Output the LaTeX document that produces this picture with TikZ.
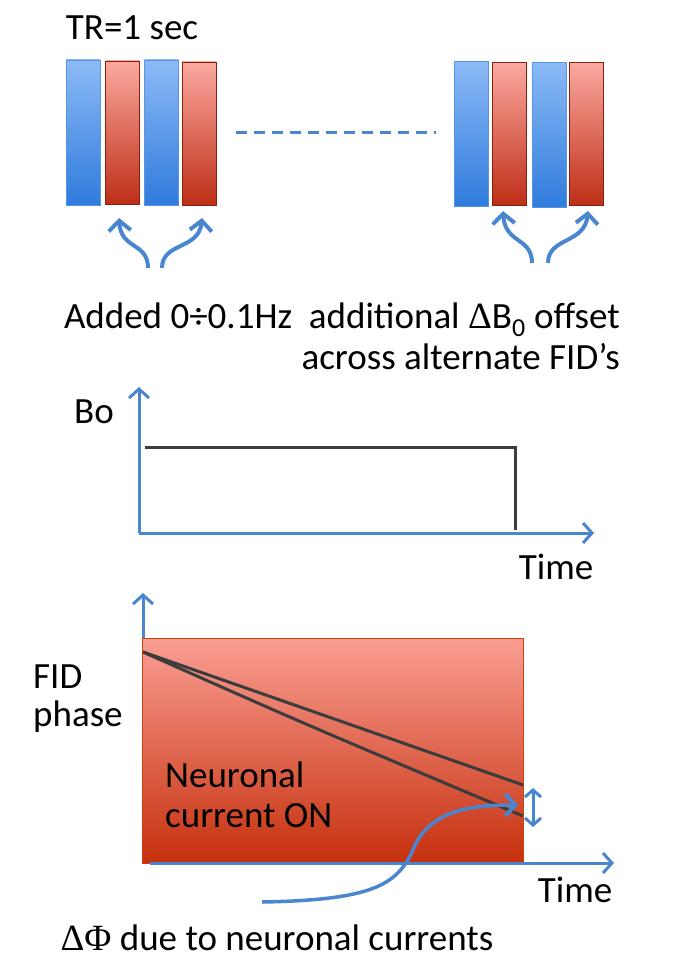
\documentclass[tikz,border=0pt]{standalone}
\usepackage{fontspec}
\setmainfont{Carlito}
\newfontfamily\symf{Liberation Serif}
\usetikzlibrary{arrows.meta}
\definecolor{axblue}{HTML}{4A86D0}
\definecolor{bartop}{HTML}{8CBAF6}
\definecolor{barbot}{HTML}{2F7BDC}
\definecolor{redtop}{HTML}{FBA9A0}
\definecolor{redbot}{HTML}{BE2E16}
\definecolor{boxtop}{HTML}{FA9E93}
\definecolor{boxbot}{HTML}{C5300D}
\definecolor{darkline}{HTML}{3C3C3C}
\tikzset{
  bluebar/.style={minimum width=34pt, minimum height=145pt, inner sep=0pt, top color=bartop, bottom color=barbot, draw=barbot!80!white, line width=0.8pt},
  redbar/.style={minimum width=34pt, minimum height=143pt, inner sep=0pt, top color=redtop, bottom color=redbot, draw=redbot!70!black, line width=0.8pt},
  tipV/.style={-{Straight Barb[length=9pt,width=20pt,line width=3pt]}},
  ax/.style={draw=axblue, line width=3pt, tipV},
  curv/.style={draw=axblue, line width=4pt, -{Straight Barb[length=10pt,width=22pt,line width=4pt]}},
  sig/.style={draw=darkline, line width=3pt},
  lbl/.style={font=\fontsize{37}{41}\selectfont, inner sep=0pt}
}
\begin{document}
\begin{tikzpicture}[x=1pt,y=-1pt]
\useasboundingbox (0,0) rectangle (680,974);
% title
\node[lbl] (tr) at (132,28) {TR=1 sec};
% left bars
\node[bluebar] (b1) at (83,132.5) {};
\node[redbar] (r1) at (122.5,132.5) {};
\node[bluebar] (b2) at (161.5,132.5) {};
\node[redbar] (r2) at (199,133.5) {};
% right bars
\node[bluebar] (b3) at (471,134) {};
\node[redbar] (r3) at (509.5,134) {};
\node[bluebar] (b4) at (549,135) {};
\node[redbar] (r4) at (586.5,134) {};
% dashed line
\coordinate (d1) at (236,132);
\coordinate (d2) at (436,132);
\draw[axblue, line width=3pt, dash pattern=on 11pt off 7pt] (d1) -- (d2);
% curved arrows
\coordinate (s1) at (148,268);
\coordinate (e1) at (119,218);
\coordinate (s2) at (162,268);
\coordinate (e2) at (202,218);
\draw[curv] (s1) .. controls (148,242) and (121,250) .. (e1);
\draw[curv] (s2) .. controls (162,242) and (199,250) .. (e2);
\coordinate (s3) at (532,263);
\coordinate (e3) at (503,211);
\coordinate (s4) at (548,263);
\coordinate (e4) at (588,211);
\draw[curv] (s3) .. controls (532,237) and (505,244) .. (e3);
\draw[curv] (s4) .. controls (548,237) and (585,244) .. (e4);
% caption
\node[lbl, anchor=east, align=right] (cap) at (620,336) {Added 0÷0.1Hz\ \ additional {\symf Δ}B\textsubscript{0} offset\\across alternate FID’s};
% Bo chart
\coordinate (o1) at (139,533);
\coordinate (yt1) at (139,387);
\coordinate (xt1) at (594,533);
\draw[ax] (o1) -- (yt1);
\draw[ax] (o1) -- (xt1);
\coordinate (p1) at (145,447);
\coordinate (p2) at (515,447);
\coordinate (p3) at (515,530);
\draw[sig] (p1) -- (p2) -- (p3);
\node[lbl] (bo) at (94,412) {Bo};
\node[lbl] (time1) at (556,567) {Time};
% FID phase chart
\coordinate (o2) at (143,863);
\coordinate (yt2) at (143,593);
\coordinate (xs2) at (150,863);
\coordinate (xt2) at (614,863);
\draw[ax] (o2) -- (yt2);
\node[minimum width=381pt, minimum height=225pt, inner sep=0pt, top color=boxtop, bottom color=boxbot, draw=boxbot!80!orange, line width=0.8pt] (box) at (332.5,750.5) {};
\draw[ax] (xs2) -- (xt2);
\coordinate (q0) at (143,652);
\coordinate (q1) at (523,785);
\coordinate (q2) at (523,816);
\draw[sig] (q0) -- (q1);
\draw[sig] (q0) .. controls (300,722) .. (q2);
\coordinate (da) at (533,788);
\coordinate (db) at (533,827);
\draw[draw=axblue, line width=3pt, {Straight Barb[length=7pt,width=16pt,line width=3pt]}-{Straight Barb[length=7pt,width=16pt,line width=3pt]}] (da) -- (db);
\node[lbl, anchor=west, align=left, font=\fontsize{37}{38}\selectfont] (fid) at (33,699) {FID\\phase};
\node[lbl, anchor=west, align=left, font=\fontsize{37}{40}\selectfont] (neur) at (165,795) {Neuronal\\current ON};
\node[lbl] (time2) at (575,890) {Time};
\coordinate (c0) at (262,902);
\coordinate (c1) at (412,852);
\coordinate (c2) at (518,805);
\draw[curv, line width=3.5pt] (c0) .. controls (372,900) and (396,885) .. (c1) .. controls (428,810) and (470,805) .. (c2);
\node[lbl] (dphi) at (277,938) {{\symf ΔΦ} due to neuronal currents};
\end{tikzpicture}
\end{document}
